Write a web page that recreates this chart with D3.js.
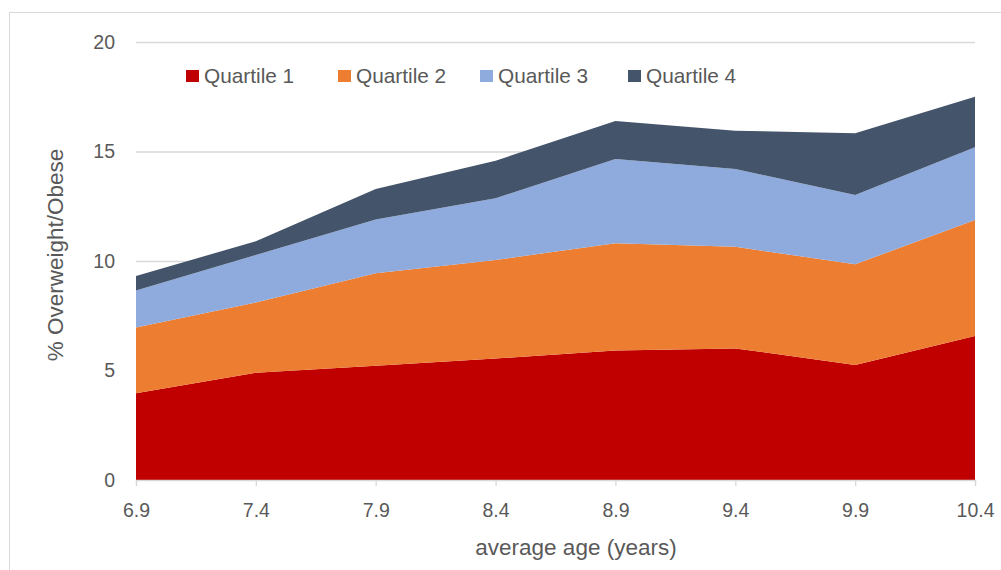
<!DOCTYPE html>
<html><head><meta charset="utf-8">
<script src="https://cdn.jsdelivr.net/npm/d3@7"></script>
<style>body{margin:0;background:#fff}svg{display:block}text{font-family:"Liberation Sans",Arial,sans-serif;fill:#595959}</style>
</head><body><svg id="c" width="1001" height="570"></svg>
<script>
const ages = ["6.9","7.4","7.9","8.4","8.9","9.4","9.9","10.4"];
const seriesNames = ["Quartile 1","Quartile 2","Quartile 3","Quartile 4"];
const q1 = [3.96,4.90,5.22,5.55,5.91,6.01,5.25,6.58];
const q2 = [3.00,3.20,4.22,4.50,4.90,4.64,4.60,5.29];
const q3 = [1.69,2.17,2.46,2.81,3.85,3.55,3.16,3.32];
const q4 = [0.67,0.63,1.39,1.72,1.73,1.75,2.82,2.31];
const yTicks = [0,5,10,15,20];
const colors = ["#C00000","#ED7D31","#8FAADC","#44546A"];

(function(){
const svg = d3.select("#c");
svg.append("rect").attr("x",9.5).attr("y",12.5).attr("width",1000).attr("height",600)
  .attr("fill","none").attr("stroke","#D9D9D9");

const pL=136,pR=975,pT=42,pB=480;
const x = d3.scalePoint().domain(ages).range([pL,pR]);
const y = d3.scaleLinear().domain([0,20]).range([pB,pT]);

const table = ages.map((a,i)=>({age:a,"Quartile 1":q1[i],"Quartile 2":q2[i],"Quartile 3":q3[i],"Quartile 4":q4[i]}));
const stack = d3.stack().keys(seriesNames)(table);

svg.append("g").selectAll("line").data(yTicks.filter(t=>t>0)).join("line")
  .attr("x1",pL).attr("x2",pR).attr("y1",d=>y(d)+0.5).attr("y2",d=>y(d)+0.5)
  .attr("stroke","#D9D9D9").attr("stroke-width",1.3);

const area = d3.area().x(d=>x(d.data.age)).y0(d=>y(d[0])).y1(d=>y(d[1]));
svg.append("g").selectAll("path").data(stack).join("path")
  .attr("d",area).attr("fill",(d,i)=>colors[i]);

const xa = svg.append("g").attr("transform",`translate(0,${pB})`)
  .call(d3.axisBottom(x).tickSize(6).tickPadding(17));
xa.select(".domain").attr("stroke","#D9D9D9").attr("stroke-width",1.3);
xa.selectAll(".tick line").attr("stroke","#D9D9D9").attr("stroke-width",1.3);
xa.selectAll("text").style("font-size","19.5px").attr("fill","#595959").style("font-family","Liberation Sans, Arial, sans-serif");

const ya = svg.append("g").attr("transform",`translate(${pL},0)`)
  .call(d3.axisLeft(y).tickValues(yTicks).tickSize(0).tickPadding(21));
ya.select(".domain").remove();
ya.selectAll("text").style("font-size","19.5px").attr("fill","#595959").style("font-family","Liberation Sans, Arial, sans-serif");

svg.append("text").attr("x",576).attr("y",555).attr("text-anchor","middle")
  .style("font-size","22.5px").text("average age (years)");
svg.append("text").attr("transform","translate(63,255) rotate(-90)").attr("text-anchor","middle")
  .style("font-size","22.5px").text("% Overweight/Obese");

const legX=[186,338,480,628];
const lg = svg.append("g").selectAll("g").data(seriesNames).join("g")
  .attr("transform",(d,i)=>`translate(${legX[i]},70)`);
lg.append("rect").attr("width",13).attr("height",12).attr("fill",(d,i)=>colors[i]);
lg.append("text").attr("x",18).attr("y",12.5).style("font-size","20.8px").text(d=>d);
})();
</script></body></html>
